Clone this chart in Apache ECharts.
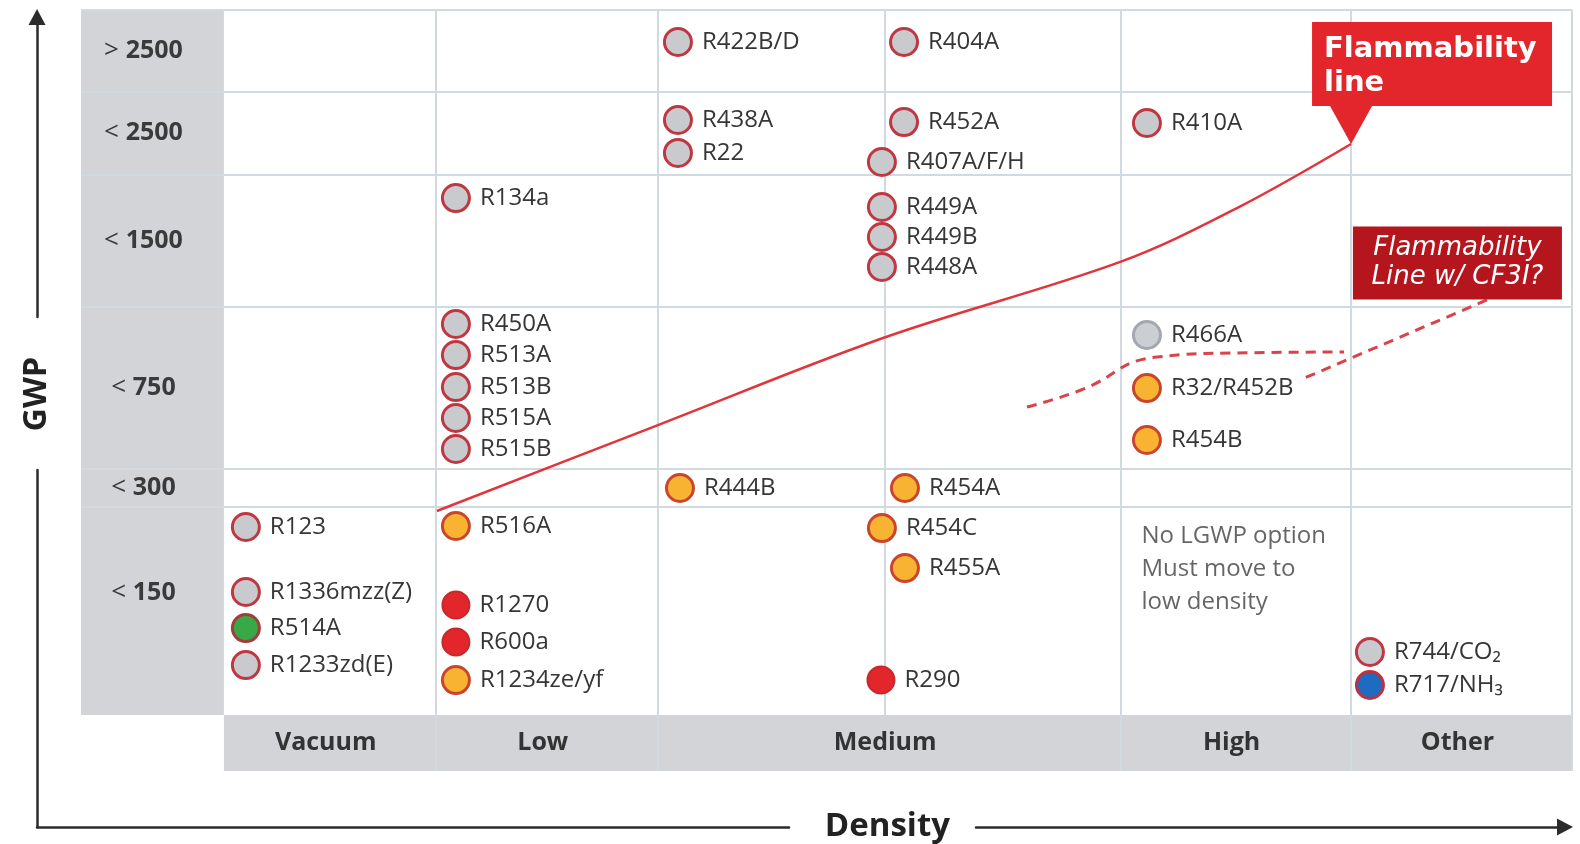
<!DOCTYPE html>
<html><head><meta charset="utf-8">
<script src="https://cdn.jsdelivr.net/npm/echarts@6/dist/echarts.min.js"></script>
<style>html,body{margin:0;padding:0;background:#fff}#c{width:1580px;height:844px}</style>
</head><body><div id="c"></div>
<script>
// ---- GWP rows (y units: 0 = bottom of plot, 100 = top of plot) ----
const rowOps = ['>', '<', '<', '<', '<', '<'];
const rowValues = [2500, 2500, 1500, 750, 300, 150];
const rowEdges = [100, 88.4, 76.7, 57.9, 34.9, 29.5, 0];
// ---- Density columns (x units: 0 = left of plot, 100 = right of plot) ----
const colLabels = ['Vacuum', 'Low', 'Medium', 'High', 'Other'];
const colEdges = [0, 15.7, 32.2, 66.5, 83.6, 100];
const subDividers = [49.0];
const XMIN = -10.6, YMIN = -7.94;

// ---- Refrigerants ----
const refNames = ['R123','R1336mzz(Z)','R514A','R1233zd(E)',
  'R134a','R450A','R513A','R513B','R515A','R515B','R516A','R1270','R600a','R1234ze/yf',
  'R422B/D','R438A','R22','R444B',
  'R404A','R452A','R407A/F/H','R449A','R449B','R448A','R454A','R454C','R455A','R290',
  'R410A','R466A','R32/R452B','R454B',
  'R744/CO₂','R717/NH₃'];
const refX = [1.63,1.63,1.63,1.63,
  17.21,17.21,17.21,17.21,17.21,17.21,17.21,17.21,17.21,17.21,
  33.68,33.68,33.68,33.83,
  50.45,50.45,48.81,48.81,48.81,48.81,50.52,48.81,50.52,48.74,
  68.47,68.47,68.47,68.47,
  85.01,85.01];
const refY = [26.67,17.45,12.34,7.09,
  73.33,55.46,51.06,46.52,42.13,37.73,26.81,15.60,10.35,4.96,
  95.46,84.40,79.72,32.20,
  95.46,84.11,78.44,72.06,67.80,63.55,32.20,26.52,20.85,4.96,
  83.97,53.90,46.38,39.01,
  8.94,4.26];
const refKind = ['A1','A1','B1','A1',
  'A1','A1','A1','A1','A1','A1','A2L','A3','A3','A2L',
  'A1','A1','A1','A2L',
  'A1','A1','A1','A1','A1','A1','A2L','A2L','A2L','A3',
  'A1','A1-CF3I','A2L','A2L',
  'A1','B2L'];

// ---- Flammability lines ----
const flamX = [15.8, 32.2, 49.0, 66.54, 75.15, 83.61];
const flamY = [28.94, 41.13, 53.55, 64.3, 71.9, 80.99];
const cf3iX = [59.57, 63.58, 69.21, 75.15, 83.09];
const cf3iY = [43.69, 46.10, 50.78, 51.35, 51.49];
const leaderX = [93.69, 79.82];
const leaderY = [58.87, 47.52];
const noteText = 'No LGWP option\nMust move to\nlow density';
const notePos = [68.03, 20.71];

const kindStyle = {
  'A1':      {color:'#c8cace', borderColor:'#bf3841', borderWidth:3, opacity: 1},
  'A1-CF3I': {color:'#cbcfd4', borderColor:'#a1a8b0', borderWidth:3, opacity: 1},
  'A2L':     {color:'#f7b331', borderColor:'#c9462c', borderWidth:3, opacity: 1},
  'A3':      {color:'#e3262b', borderColor:'#c42a2c', borderWidth:2, opacity: 1},
  'B1':      {color:'#38a947', borderColor:'#a33c3c', borderWidth:3, opacity: 1},
  'B2L':     {color:'#1e6cc0', borderColor:'#c0303e', borderWidth:3, opacity: 1}
};

const FONT = 'Open Sans';
const lineColor = '#d2dae1';

const refData = refNames.map((n, i) => ({
  name: n, value: [refX[i], refY[i]], itemStyle: kindStyle[refKind[i]]
}));

const leftCells = rowValues.map((v, i) => [
  {name: rowOps[i] + ' ' + v, coord: [XMIN, rowEdges[i]], label: {offset: [-9, i === 5 ? -18 : 0]}},
  {coord: [0, rowEdges[i + 1]]}
]);
const bottomCells = colLabels.map((n, i) => [
  {name: n, coord: [colEdges[i], 0]},
  {coord: [colEdges[i + 1], YMIN]}
]);

const dividers = [];
rowEdges.slice(1, -1).forEach(y => dividers.push([{coord: [XMIN, y]}, {coord: [100, y]}]));
dividers.push([{coord: [XMIN, 100]}, {coord: [100, 100]}]);
colEdges.slice(1).forEach(x => dividers.push([{coord: [x, YMIN]}, {coord: [x, 100]}]));
subDividers.forEach(x => dividers.push([{coord: [x, 0]}, {coord: [x, 100]}]));

const hidden = {show: false};
function arrowY(gridIndex, withArrow, name) {
  return {
    type: 'value', gridIndex, min: 0, max: 1, position: 'left',
    axisLine: {show: true, onZero: false, symbol: ['none', withArrow ? 'triangle' : 'none'], symbolSize: [17, 16],
      lineStyle: {color: '#2b2b2b', width: 2.5}},
    axisTick: hidden, axisLabel: hidden, splitLine: hidden,
    name: name || '', nameLocation: 'start', nameGap: 40, nameRotate: 90,
    nameTextStyle: {fontFamily: FONT, fontWeight: 'bold', fontSize: 32, color: '#222'}
  };
}
function arrowX(gridIndex, withArrow, name) {
  return {
    type: 'value', gridIndex, min: 0, max: 1, position: 'bottom',
    axisLine: {show: true, onZero: false, symbol: ['none', withArrow ? 'triangle' : 'none'], symbolSize: [17, 16],
      lineStyle: {color: '#2b2b2b', width: 2.5}},
    axisTick: hidden, axisLabel: hidden, splitLine: hidden,
    name: name || '', nameLocation: 'start', nameGap: 26,
    nameTextStyle: {fontFamily: FONT, fontWeight: 'bold', fontSize: 33, color: '#222'}
  };
}

const option = {
  animation: false,
  backgroundColor: '#fff',
  grid: [
    {left: 81, right: 8, top: 10, bottom: 73, outerBoundsMode: 'none'},
    {left: 37, top: 17, height: 300, width: 10, outerBoundsMode: 'none'},
    {left: 37, top: 470, height: 357, width: 10, outerBoundsMode: 'none'},
    {left: 37, top: 800, height: 27, width: 752, outerBoundsMode: 'none'},
    {left: 976, top: 800, height: 27, width: 589, outerBoundsMode: 'none'}
  ],
  xAxis: [
    {type: 'value', gridIndex: 0, min: XMIN, max: 100, show: false},
    {type: 'value', gridIndex: 1, min: 0, max: 1, show: false},
    {type: 'value', gridIndex: 2, min: 0, max: 1, show: false},
    arrowX(3, false),
    arrowX(4, true, 'Density')
  ],
  yAxis: [
    {type: 'value', gridIndex: 0, min: YMIN, max: 100, show: false},
    arrowY(1, true, 'GWP'),
    arrowY(2, false),
    {type: 'value', gridIndex: 3, min: 0, max: 1, show: false},
    {type: 'value', gridIndex: 4, min: 0, max: 1, show: false}
  ],
  series: [
    {
      type: 'scatter', name: 'structure', xAxisIndex: 0, yAxisIndex: 0, data: [], z: 1, silent: true,
      markArea: {
        silent: true, z: 0,
        itemStyle: {color: '#d2d4d8', opacity: 1, borderWidth: 0},
        label: {show: true, position: 'inside', color: '#3a3a3a', fontFamily: FONT,
          formatter: p => { const s = p.name.split(' '); return '{op|' + s[0] + ' }{num|' + s[1] + '}'; },
          rich: {
            op: {fontFamily: FONT, fontSize: 26, fontWeight: 'normal', color: '#3a3a3a'},
            num: {fontFamily: FONT, fontSize: 25, fontWeight: 'bold', color: '#3a3a3a'}
          }},
        data: leftCells
      }
    },
    {
      type: 'scatter', name: 'strip', xAxisIndex: 0, yAxisIndex: 0, data: [], z: 1, silent: true,
      markArea: {
        silent: true, z: 0,
        itemStyle: {color: '#d2d4d8', opacity: 1, borderWidth: 0},
        label: {show: true, position: 'inside', offset: [-4, 0], color: '#333', fontFamily: FONT,
          fontWeight: 'bold', fontSize: 25},
        data: bottomCells
      }
    },
    {
      type: 'scatter', name: 'dividers', xAxisIndex: 0, yAxisIndex: 0, data: [], z: 1, silent: true,
      markLine: {
        silent: true, z: 1, symbol: ['none', 'none'], label: {show: false},
        lineStyle: {color: lineColor, width: 2, type: 'solid', opacity: 1},
        emphasis: {disabled: true},
        data: dividers
      }
    },
    {
      type: 'line', name: 'Flammability line', xAxisIndex: 0, yAxisIndex: 0, z: 3,
      data: flamX.map((x, i) => [x, flamY[i]]), smooth: 0.35, symbol: 'none',
      lineStyle: {color: '#e0353b', width: 2.5, opacity: 1}
    },
    {
      type: 'line', name: 'Flammability line w/ CF3I', xAxisIndex: 0, yAxisIndex: 0, z: 3,
      data: cf3iX.map((x, i) => [x, cf3iY[i]]), smooth: 0.5, symbol: 'none',
      lineStyle: {color: '#d9434a', width: 3, type: [10, 7], opacity: 1}
    },
    {
      type: 'line', name: 'CF3I leader', xAxisIndex: 0, yAxisIndex: 0, z: 3,
      data: leaderX.map((x, i) => [x, leaderY[i]]), symbol: 'none',
      lineStyle: {color: '#d9434a', width: 3, type: [10, 7], opacity: 1}
    },
    {
      type: 'scatter', name: 'Refrigerants', xAxisIndex: 0, yAxisIndex: 0, z: 4,
      symbol: 'circle', symbolSize: 27, itemStyle: {opacity: 1},
      label: {show: true, position: 'right', distance: 9, formatter: '{b}', fontFamily: FONT,
        fontSize: 24, color: '#363636'},
      data: refData
    },
    {
      type: 'scatter', name: 'note', xAxisIndex: 0, yAxisIndex: 0, z: 4, silent: true,
      data: [{value: notePos, symbolSize: 1, itemStyle: {color: 'rgba(0,0,0,0)'},
        label: {show: true, position: 'right', distance: 0, align: 'left', formatter: noteText,
          fontFamily: FONT, fontSize: 24, lineHeight: 33, color: '#3e3e3e'}}]
    },
    {
      type: 'scatter', name: 'callout1', xAxisIndex: 0, yAxisIndex: 0, z: 5, silent: true,
      itemStyle: {opacity: 1},
      data: [{value: [flamX[flamX.length - 1], flamY[flamY.length - 1]], symbol: 'triangle', symbolRotate: 180,
        symbolSize: [42, 38], symbolOffset: [0, -19], itemStyle: {color: '#e3262b', opacity: 1},
        label: {show: true, position: 'top', distance: 0, align: 'left', offset: [-39, 0],
          formatter: 'Flammability\nline', fontFamily: 'DejaVu Sans', fontWeight: 'bold', fontSize: 29,
          lineHeight: 34, color: '#fff', backgroundColor: '#e3262b', padding: [10, 12, 6, 12], width: 216,
          opacity: 1}}]
    },
    {
      type: 'scatter', name: 'callout2', xAxisIndex: 0, yAxisIndex: 0, z: 5, silent: true,
      itemStyle: {opacity: 1},
      data: [{value: [leaderX[0], leaderY[0]], symbolSize: 1, itemStyle: {color: 'rgba(0,0,0,0)', opacity: 1},
        label: {show: true, position: 'top', distance: 0, align: 'center', offset: [-29.5, 0],
          formatter: 'Flammability\nLine w/ CF3I?', fontFamily: 'DejaVu Sans', fontStyle: 'italic', fontSize: 26,
          lineHeight: 29.5, color: '#fff', backgroundColor: '#b5151d', padding: [7, 10], width: 189,
          opacity: 1}}]
    }
  ]
};
const chart = echarts.init(document.getElementById('c'), null, {renderer: 'canvas'});
chart.setOption(option);
</script></body></html>
